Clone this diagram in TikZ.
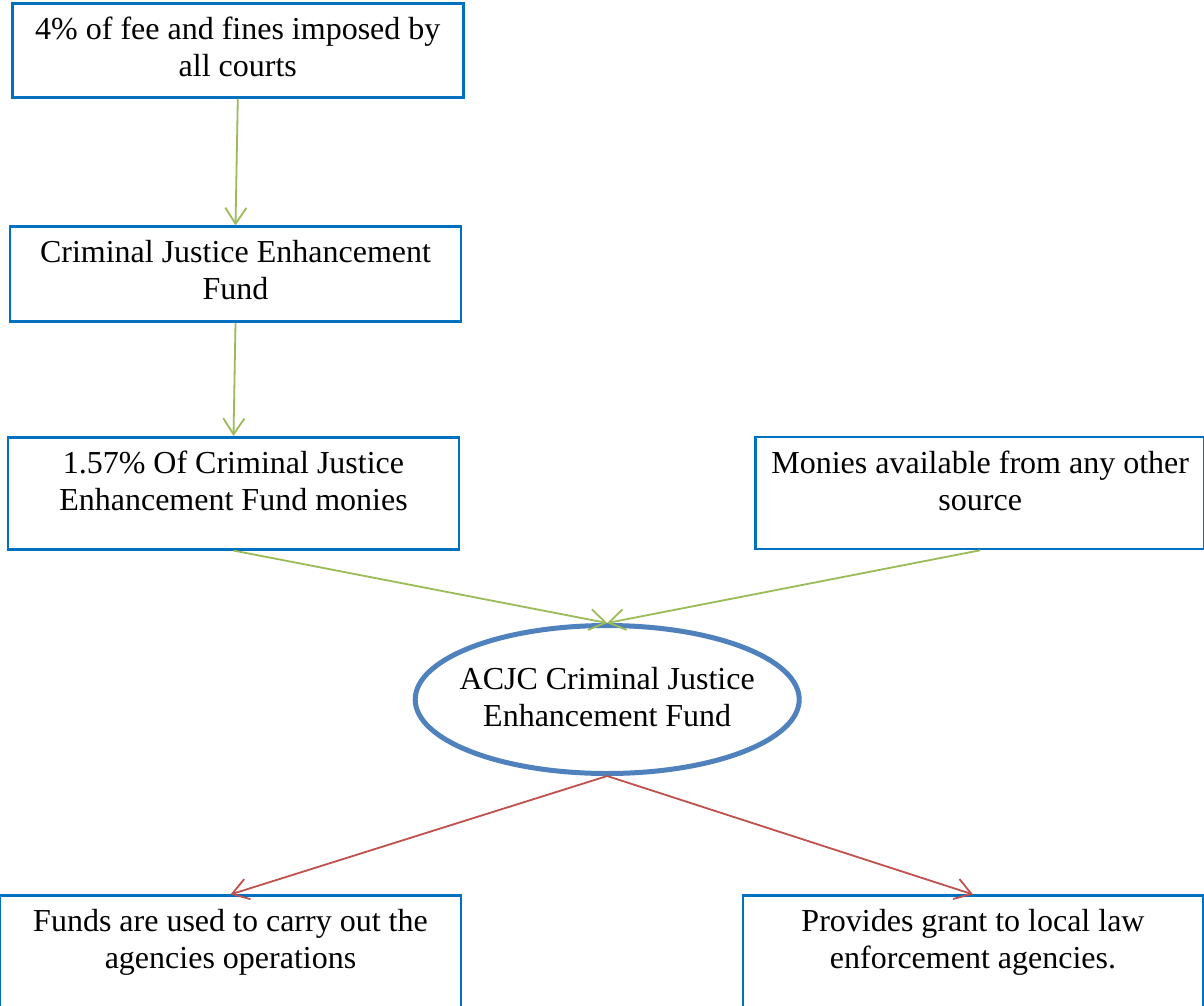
\documentclass[tikz,border=0pt]{standalone}
\usepackage{fontspec}
\setmainfont{Liberation Serif}
\definecolor{boxblue}{RGB}{0,112,192}
\definecolor{fundblue}{RGB}{79,129,189}
\definecolor{flowgreen}{RGB}{155,187,89}
\definecolor{flowred}{RGB}{192,80,77}
\usetikzlibrary{shapes.geometric,arrows.meta}

\tikzset{
  box/.style={draw=boxblue,line width=2.5pt,minimum width=451pt},
  boxtext/.style={anchor=north,align=center,inner sep=0pt,font=\fontsize{32}{37}\selectfont},
  fund/.style={draw=fundblue,line width=5pt,ellipse,minimum width=384pt,minimum height=148pt},
  flow/.style={line width=1.8pt,-{Straight Barb[length=16pt,width=21pt]}}
}

\begin{document}
\begin{tikzpicture}[x=1pt,y=-1pt]
  \useasboundingbox (0,0) rectangle (1204,1006);
  \clip (0,0) rectangle (1204,1006);
  \fill[white] (0,0) rectangle (1204,1006);

  \begin{scope}
    \node[box,minimum height=94pt] (fees) at (237.8,50.3) {};
    \node[box,minimum height=95pt] (cjef) at (235.5,274.2) {};
    \node[box,minimum height=112pt] (share) at (233.5,493.3) {};
    \node[box,minimum width=449pt,minimum height=112pt] (other) at (980.2,493) {};
    \node[box,minimum width=461pt,minimum height=130pt] (ops) at (230.5,960.7) {};
    \node[box,minimum width=460pt,minimum height=130pt] (grant) at (973,960.7) {};
    \node[fund] (acjc) at (607.2,699.5) {};

    \node[boxtext] (fees-t) at ([yshift=-15pt]fees.north) {4\% of fee and fines imposed by\\all courts};
    \node[boxtext] (cjef-t) at ([yshift=-15pt]cjef.north) {Criminal Justice Enhancement\\Fund};
    \node[boxtext] (share-t) at ([yshift=-15pt]share.north) {1.57\% Of Criminal Justice\\Enhancement Fund monies};
    \node[boxtext] (other-t) at ([yshift=-15pt]other.north) {Monies available from any other\\source};
    \node[boxtext] (ops-t) at ([yshift=-15pt]ops.north) {Funds are used to carry out the\\agencies operations};
    \node[boxtext] (grant-t) at ([yshift=-15pt]grant.north) {Provides grant to local law\\enforcement agencies.};
    \node[boxtext,anchor=center] (acjc-t) at ([yshift=2pt]acjc.center) {ACJC Criminal Justice\\Enhancement Fund};

    \draw[flow,flowgreen] (fees.south) -- (cjef.north);
    \draw[flow,flowgreen] (cjef.south) -- (share.north);
    \draw[flow,flowgreen] (share.south) -- (acjc.north);
    \draw[flow,flowgreen] (other.south) -- (acjc.north);
    \draw[flow,flowred] (acjc.south) -- (ops.north);
    \draw[flow,flowred] (acjc.south) -- (grant.north);
  \end{scope}
\end{tikzpicture}
\end{document}
